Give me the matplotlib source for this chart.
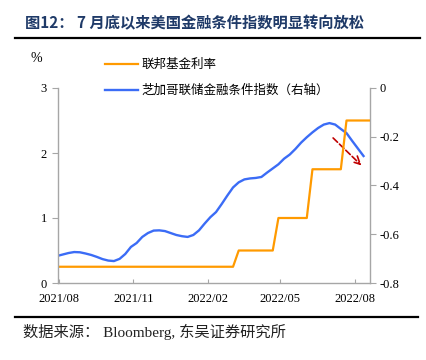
import numpy as np
import pandas as pd
import matplotlib.pyplot as plt
import matplotlib.dates as mdates
from matplotlib.lines import Line2D

# weekly observations (Fridays)
weeks = pd.date_range('2021-07-30', '2022-08-19', freq='7D')

# fed funds target, upper bound (%), left axis
fed_rate = [0.25] * 32 + [0.5] * 7 + [1.0] * 6 + [1.75] * 6 + [2.5] * 5

# Chicago Fed NFCI, right axis
nfci = [-0.689, -0.683, -0.677, -0.673, -0.674, -0.679, -0.685, -0.693, -0.702, -0.708,
        -0.710, -0.701, -0.681, -0.652, -0.636, -0.611, -0.595, -0.585, -0.584, -0.587,
        -0.595, -0.603, -0.608, -0.611, -0.603, -0.584, -0.556, -0.530, -0.509, -0.476,
        -0.441, -0.408, -0.387, -0.375, -0.371, -0.369, -0.365, -0.347, -0.330, -0.313,
        -0.290, -0.273, -0.250, -0.224, -0.202, -0.182, -0.164, -0.150, -0.144, -0.150,
        -0.168, -0.185, -0.217, -0.248, -0.279]

xticks = pd.to_datetime(['2021-08-01', '2021-11-01', '2022-02-01', '2022-05-01', '2022-08-01'])

serif = ['Liberation Serif', 'Noto Sans CJK SC']
cjk = ['Noto Sans CJK SC', 'DejaVu Sans']
plt.rcParams['font.family'] = serif

fig = plt.figure(figsize=(4.26, 3.6), dpi=100)
ax = fig.add_axes([58 / 426, 1 - 283 / 360, 312 / 426, 195 / 360])
ax2 = ax.twinx()
ax.set_zorder(ax2.get_zorder() + 1)
ax.patch.set_visible(False)

l1, = ax.plot(weeks, fed_rate, color='#FF9A00', lw=1.6, label='联邦基金利率')
l2, = ax2.plot(weeks[:len(nfci)], nfci, color='#3B6CF6', lw=1.7, label='芝加哥联储金融条件指数（右轴）')

ax.set_ylim(0, 3)
ax.set_yticks([0, 1, 2, 3])
ax2.set_ylim(-0.8, 0)
ax2.set_yticks([0, -0.2, -0.4, -0.6, -0.8])
ax2.set_yticklabels(['0', '-0.2', '-0.4', '-0.6', '-0.8'])
ax.set_xlim(pd.Timestamp('2021-07-31'), pd.Timestamp('2022-08-20'))
ax.set_xticks(xticks)
ax.xaxis.set_major_formatter(mdates.DateFormatter('%Y/%m'))

spine_c = '#A6A6A6'
for a in (ax, ax2):
    a.spines['top'].set_visible(False)
    for s in a.spines.values():
        s.set_color(spine_c)
        s.set_linewidth(1.0)
ax.spines['right'].set_visible(False)
ax2.spines['left'].set_visible(False)
ax2.spines['bottom'].set_visible(False)
ax.tick_params(axis='y', direction='out', length=4, color=spine_c, labelsize=9, pad=4)
ax.tick_params(axis='x', direction='in', length=3, color=spine_c, labelsize=9, pad=7)
ax2.tick_params(axis='y', direction='out', length=4, color=spine_c, labelsize=9, pad=3)

ax2.annotate('', xy=(pd.Timestamp('2022-08-12'), -0.326),
             xytext=(pd.Timestamp('2022-07-03'), -0.197),
             arrowprops=dict(arrowstyle='->', linestyle='--', color='#C00000',
                             lw=1.2, mutation_scale=14))

fig.legend(handles=[l1, l2], loc='upper left', bbox_to_anchor=(105 / 426, 1 - 58 / 360),
           frameon=False, prop={'family': cjk, 'size': 9}, handlelength=2.6,
           handletextpad=0.35, labelspacing=1.05, borderpad=0, borderaxespad=0)

fig.text(36 / 426, 1 - 59 / 360, '%', ha='center', va='center', fontsize=10)

fig.text(25 / 426, 1 - 23 / 360, '图12： 7 月底以来美国金融条件指数明显转向放松',
         family=cjk, fontsize=11, fontweight='bold', color='#1F3A68',
         ha='left', va='center')
fig.add_artist(Line2D([15 / 426, 420 / 426], [1 - 38 / 360, 1 - 38 / 360], color='black', lw=1.6))
fig.add_artist(Line2D([15 / 426, 418 / 426], [1 - 317 / 360, 1 - 317 / 360], color='black', lw=1.6))
fig.text(23 / 426, 1 - 332 / 360, '数据来源： Bloomberg, 东吴证券研究所',
         fontsize=11, ha='left', va='center', color='#222222')

fig.savefig('out.png', dpi=100)
